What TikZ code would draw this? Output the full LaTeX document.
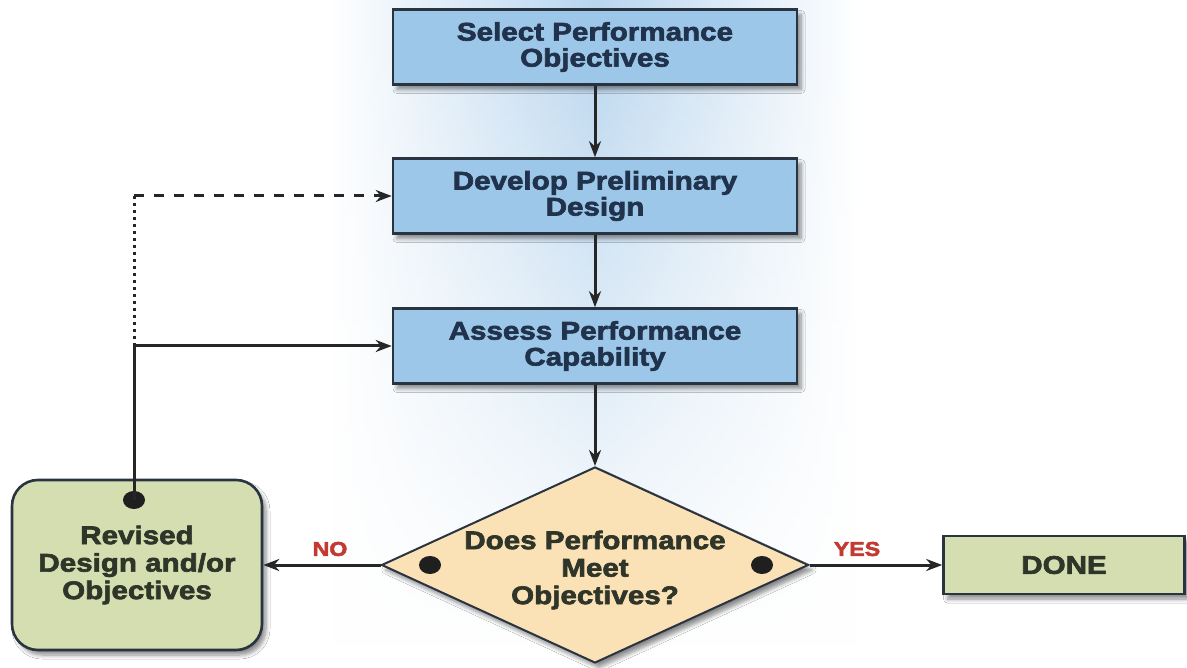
\documentclass[tikz,border=0pt]{standalone}
\usepackage{fontspec}
\setmainfont[FakeStretch=1.16,BoldFeatures={FakeBold=2.6}]{Liberation Sans}
\usetikzlibrary{shapes.geometric,arrows.meta,shadows.blur,fadings}
\definecolor{boxblue}{HTML}{9DC7E8}
\definecolor{boxgreen}{HTML}{D5DEB0}
\definecolor{boxtan}{HTML}{FBE2B6}
\definecolor{edgecol}{HTML}{2A3440}
\definecolor{bluetext}{HTML}{21334C}
\definecolor{darktext}{HTML}{2F3629}
\definecolor{labelred}{HTML}{C23A32}
\definecolor{bandblue}{HTML}{B8D5EE}
\tikzfading[name=bandfade, top color=transparent!0, middle color=transparent!15, bottom color=transparent!100]
\begin{document}
\begin{tikzpicture}[x=1pt,y=-1pt,
  shadowed/.style={blur shadow={shadow xshift=4pt,shadow yshift=-5pt,shadow opacity=45,shadow blur steps=6,shadow blur radius=4pt}},
  bluebox/.style={shadowed,draw=edgecol,line width=2.6pt,fill=boxblue,minimum width=404,minimum height=75,inner sep=0pt,align=center,text=bluetext,font=\bfseries\fontsize{25.5}{26}\selectfont},
  greenbox/.style={shadowed,draw=edgecol,line width=2.6pt,fill=boxgreen,inner sep=0pt,align=center,text=darktext,font=\bfseries\fontsize{25.5}{27.5}\selectfont},
  decision/.style={shadowed,diamond,draw=edgecol,line width=2pt,fill=boxtan,minimum width=427,minimum height=196,inner sep=0pt},
  dtext/.style={align=center,text=darktext,inner sep=0pt,font=\bfseries\fontsize{25.5}{27.5}\selectfont},
  dot/.style={ellipse,fill=black!88,minimum width=22,minimum height=18,inner sep=0pt},
  conn/.style={draw=black!85,line width=3pt},
  arr/.style={conn,-{Stealth[length=16pt,width=12pt]}},
  lab/.style={text=labelred,inner sep=0pt,font=\bfseries\fontsize{20}{22}\selectfont},
  dotline/.style={conn,dash pattern=on 3pt off 4pt},
  dashline/.style={conn,dash pattern=on 10pt off 10pt}
]
\useasboundingbox[fill=white] (0,0) rectangle (1187,668);
% background glow band
\shade[left color=white,right color=bandblue,path fading=bandfade] (330,0) rectangle (595,645);
\shade[left color=bandblue,right color=white,path fading=bandfade] (595,0) rectangle (860,645);

% nodes
\node[bluebox] (s1) at (595,47) {Select Performance\\Objectives};
\node[bluebox] (s2) at (595,196) {Develop Preliminary\\Design};
\node[bluebox] (s3) at (595,346) {Assess Performance\\Capability};
\node[decision] (d) at (595,565) {};
\node[dtext] (dt) at (595,570) {Does Performance\\Meet\\Objectives?};
\node[greenbox,rounded corners=26pt,minimum width=250,minimum height=170] (rev) at (137,565) {Revised\\Design and/or\\Objectives};
\node[greenbox,minimum width=241,minimum height=58] (done) at (1064,565) {DONE};

% main flow
\draw[arr] (s1.south) -- (s2.north);
\draw[arr] (s2.south) -- (s3.north);
\draw[arr] (s3.south) -- (d.north);
\draw[arr] (d.west) -- (rev.east);
\draw[arr] (d.east) -- (done.west);
\node[lab] (no) at (330,549) {NO};
\node[lab] (yes) at (857,549) {YES};
\node[dot] (dl) at (430,565) {};
\node[dot] (dr) at (762,565) {};

% feedback
\node[dot] (rd) at (134,500) {};
\coordinate (j) at (rd |- s3.west);
\coordinate (c) at (rd |- s2.west);
\draw[arr] (rd.center) -- (j) -- (s3.west);
\draw[dotline] (j) -- (c);
\draw[dashline,-{Stealth[length=16pt,width=12pt]}] (c) -- (s2.west);
\end{tikzpicture}
\end{document}
